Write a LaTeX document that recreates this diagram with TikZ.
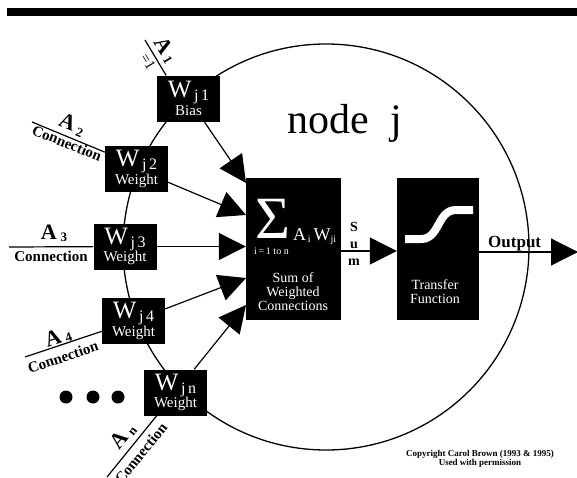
\documentclass[tikz,border=0pt]{standalone}
\usepackage{fontspec}
\setmainfont{Liberation Serif}
\usepackage{tikz}
\usetikzlibrary{arrows.meta}

\newcommand{\fs}[1]{\fontsize{#1}{#1}\selectfont}
\newcommand{\wlab}[2]{{\fs{25}W}\raisebox{-3pt}{\fs{16}\,j\,#1}\\{\fs{15}#2}}
\newcommand{\alab}[1]{A\,\raisebox{-2pt}{\fs{13}#1}}

\begin{document}
\begin{tikzpicture}[x=1pt,y=-1pt,
	wbox/.style={fill=black,text=white,minimum width=63pt,minimum height=46pt,inner sep=0pt,align=center,font=\fs{15}},
	bigbox/.style={fill=black,minimum height=142pt,inner sep=0pt},
	wtext/.style={text=white,inner sep=0pt},
	alabel/.style={font=\fs{22}\bfseries,inner sep=0pt},
	conn/.style={font=\fs{15}\bfseries,inner sep=0pt},
	arr/.style={-{Triangle[length=27pt,width=27pt]},line width=1.2pt},
	wire/.style={line width=1.2pt},
	dot/.style={circle,fill=black,minimum size=13pt,inner sep=0pt}]
	\useasboundingbox (0,0) rectangle (577,477);
	\fill (7,8) rectangle (578,16);
	\node[draw,circle,line width=1.3pt,minimum size=406pt,inner sep=0pt] (body) at (326,247) {};
	\node[font=\fs{42},anchor=base] (title) at (345,133) {node\ \ j};

	\node[wbox] (w1) at (188.5,98.5) {\wlab{1}{Bias}};
	\node[wbox] (w2) at (136.5,169) {\wlab{2}{Weight}};
	\node[wbox] (w3) at (125,246.5) {\wlab{3}{Weight}};
	\node[wbox] (w4) at (133.5,321) {\wlab{4}{Weight}};
	\node[wbox] (wn) at (175.5,392.5) {\wlab{n}{Weight}};
	\foreach \i/\x in {1/66,2/93,3/118}
		\node[dot] (d\i) at (\x,397) {};

	\node[bigbox,minimum width=95pt] (sum) at (293.5,249) {};
	\node[wtext,font=\fs{60}] (sig) at (272.5,219) {Σ};
	\node[wtext,font=\fs{18},anchor=base west] (aw) at (293,240) {A\raisebox{-2pt}{\fs{10}\,i}\,W\raisebox{-2pt}{\fs{10}ji}};
	\node[wtext,font=\fs{10}] (range) at (271.5,251) {i\,=\,1 to n};
	\node[wtext,font=\fs{14},align=center] (sumlab) at (293,292) {Sum of\\Weighted\\Connections};
	\node[font=\fontsize{14}{17}\selectfont\bfseries,align=center,inner sep=0pt] (sumtxt) at (354,244) {S\\u\\m};

	\node[bigbox,minimum width=82pt] (tf) at (438,249) {};
	\draw[white,line width=8pt] (405,239) -- (421,239) .. controls (440,239) and (437,210) .. (456,210) -- (473,210);
	\node[wtext,font=\fs{14},align=center] (tflab) at (435,292) {Transfer\\Function};
	\node[font=\fs{17}\bfseries,anchor=base west,inner sep=0pt] (outlab) at (488,247) {Output};
	\coordinate (out) at (578,252);

	\coordinate (t1) at (246,183);
	\coordinate (t2) at (246,215);
	\coordinate (t4) at (246,278);
	\coordinate (t5) at (246,305);
	\draw[arr] (w1) -- (t1);
	\draw[arr] (w2) -- (t2);
	\draw[arr] (w3) -- (w3 -| sum.west);
	\draw[arr] (w4) -- (t4);
	\draw[arr] (wn) -- (t5);
	\draw[arr] (sum.east |- 0,251) -- (tf.west |- 0,251);
	\draw[arr] (tf.east |- 0,252) -- (out);

	\coordinate (in1) at (145,40);
	\coordinate (in2) at (32,122);
	\coordinate (in3) at (9,247);
	\coordinate (in4) at (25,357);
	\coordinate (inn) at (107,477);
	\draw[wire] (in1) -- (w1.134);
	\draw[wire] (in2) -- (w2.152);
	\draw[wire] (in3) -- (w3);
	\draw[wire] (in4) -- (w4.198);
	\draw[wire] (inn) -- (wn.231);

	\node[alabel,rotate=-59] (a1) at (166,50) {\alab{1}};
	\node[alabel,rotate=-59,font=\fs{15}] (c1) at (148,62) {=1};
	\node[alabel,rotate=-22] (a2) at (72,125) {\alab{2}};
	\node[conn,rotate=-22] (c2) at (67,143) {Connection};
	\node[alabel] (a3) at (54,233) {\alab{3}};
	\node[conn] (c3) at (51,256) {Connection};
	\node[alabel,rotate=18.5] (a4) at (58,337) {\alab{4}};
	\node[conn,rotate=18.5] (c4) at (63,357) {Connection};
	\node[alabel,rotate=51] (an) at (123,436) {\alab{n}};
	\node[conn,rotate=51] (cn) at (141,453) {Connection};

	\node[font=\fs{9}\bfseries,align=center,inner sep=0pt] (copy) at (480,459) {Copyright Carol Brown (1993 \& 1995)\\Used with permission};
\end{tikzpicture}
\end{document}
